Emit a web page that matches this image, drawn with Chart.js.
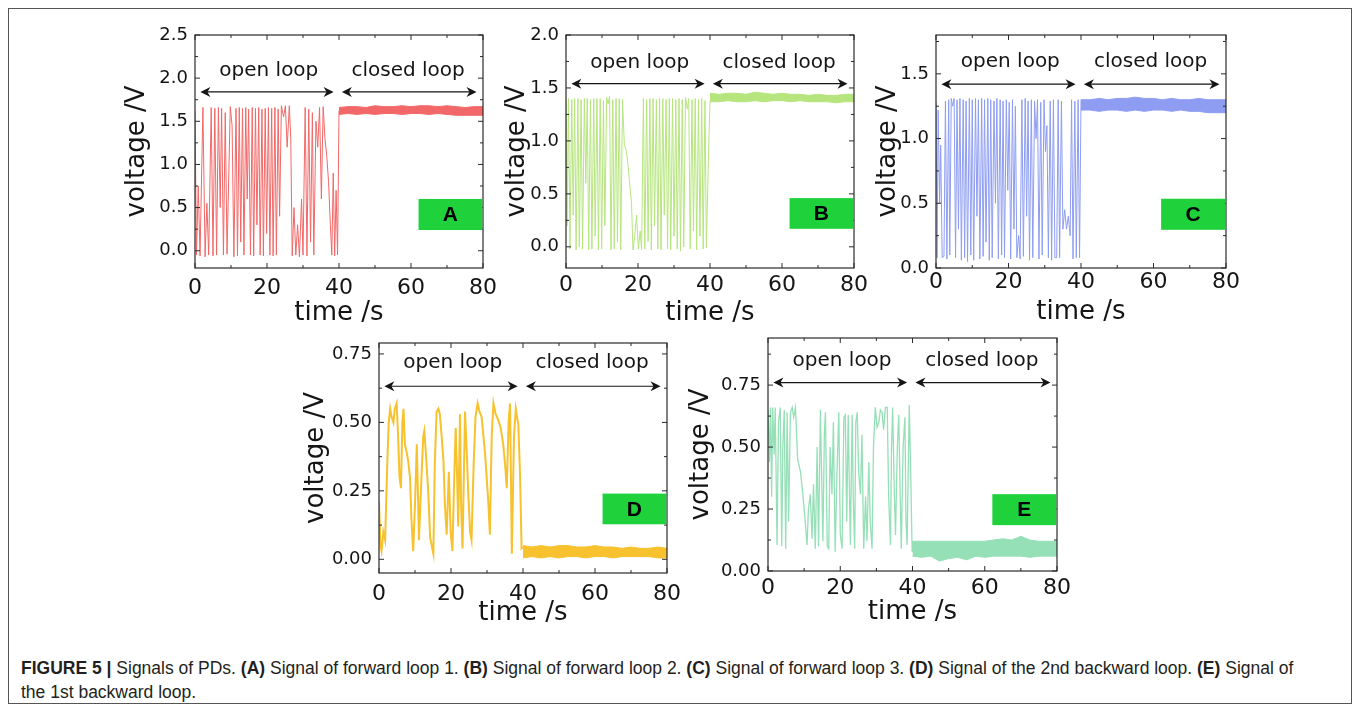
<!DOCTYPE html>
<html>
<head>
<meta charset="utf-8">
<script src="https://cdn.jsdelivr.net/npm/chart.js@4.4.1/dist/chart.umd.min.js"></script>
<style>
  body { margin: 0; background: #fff; width: 1359px; height: 711px; overflow: hidden; position: relative; }
  #frame { position: absolute; left: 8px; top: 8px; width: 1342px; height: 694px; border: 1px solid #555; }
  canvas { position: absolute; }
  #caption { position: absolute; left: 21px; top: 656px; font: 17.5px "Liberation Sans", Arial, sans-serif;
             line-height: 24px; color: #231f20; white-space: nowrap; }
</style>
</head>
<body>
<div id="frame"></div>
<canvas id="pA"></canvas>
<canvas id="pB"></canvas>
<canvas id="pC"></canvas>
<canvas id="pD"></canvas>
<canvas id="pE"></canvas>
<div id="caption"><b>FIGURE 5 |</b> Signals of PDs. <b>(A)</b> Signal of forward loop 1. <b>(B)</b> Signal of forward loop 2. <b>(C)</b> Signal of forward loop 3. <b>(D)</b> Signal of the 2nd backward loop. <b>(E)</b> Signal of<br>the 1st backward loop.</div>
<script>
// ---- data (time in s, voltage in V) ----
const xTicks = [0, 20, 40, 60, 80];
const xMinor = [10, 30, 50, 70];

// closed loop part: band edges sampled every 2.5 s
const tClosed = [40, 42.5, 45, 47.5, 50, 52.5, 55, 57.5, 60, 62.5, 65, 67.5, 70, 72.5, 75, 77.5, 80];

// A - forward loop 1
const tOpenA = [0, 0.4, 0.9, 1.4, 2.2, 2.8, 3.3, 3.8, 4.5, 5.0, 5.5, 6.0, 6.5, 7.0, 7.4, 7.9, 8.4, 8.9, 9.8, 10.3,
  10.8, 11.4, 11.8, 12.3, 12.7, 13.2, 13.6, 14.1, 14.5, 14.9, 15.4, 15.9, 16.3, 16.8, 17.2, 17.7, 18.1, 18.6, 19.0, 19.5,
  19.9, 20.4, 20.8, 21.3, 21.7, 22.2, 22.6, 23.1, 23.5, 24.0, 24.6, 25.1, 25.6, 26.2, 26.6, 27.0, 27.5, 28.0, 28.5, 29.0,
  29.6, 30.0, 30.6, 31.1, 31.6, 32.1, 32.6, 33.0, 33.6, 34.1, 34.6, 35.1, 35.6, 36.1, 36.6, 37.1, 37.6, 38.0, 38.4, 38.8,
  39.2, 39.6, 40.0];
const vOpenA = [1.62, -0.05, 0.75, -0.06, 1.66, -0.07, 0.55, -0.05, 1.66, -0.06, 1.65, -0.05, 1.66, 0.5, 1.65, -0.05, 1.6, -0.04, 1.67, 1.45,
  -0.07, 1.65, -0.06, 1.66, 0.1, 1.65, -0.05, 1.66, 0.6, 1.64, -0.05, 1.66, -0.06, 1.65, 0.3, 1.66, -0.05, 1.64, -0.06, 1.65,
  0.2, 1.66, -0.05, 1.65, -0.06, 1.66, -0.05, 1.64, 0.4, 1.68, 1.55, 1.68, 1.2, 1.68, 1.3, -0.06, 0.5, -0.05, 0.3, -0.07,
  0.6, -0.05, 1.66, -0.06, 1.64, 0.1, 1.6, -0.05, 1.5, 1.2, 1.66, 0.6, 1.67, 1.3, 1.1, 0.8, 0.3, -0.05, 0.9, -0.06,
  0.7, -0.05, 1.62];
const topA = [1.66, 1.67, 1.67, 1.66, 1.68, 1.67, 1.67, 1.68, 1.67, 1.68, 1.68, 1.67, 1.68, 1.67, 1.66, 1.67, 1.67];
const lowA = [1.58, 1.59, 1.58, 1.59, 1.58, 1.59, 1.59, 1.58, 1.59, 1.59, 1.58, 1.59, 1.58, 1.57, 1.57, 1.57, 1.57];

// B - forward loop 2
const tOpenB = [0, 0.3, 0.7, 1.1, 1.6, 2.0, 2.4, 2.8, 3.3, 3.7, 4.2, 4.6, 5.1, 5.5, 5.9, 6.3, 6.8, 7.2, 7.7, 8.1,
  8.6, 9.0, 9.5, 9.9, 10.4, 10.8, 11.3, 11.7, 12.1, 12.5, 13.0, 13.4, 13.9, 14.3, 14.8, 15.2, 15.7, 16.2, 16.8, 17.3,
  17.8, 18.2, 18.6, 19.1, 19.6, 20.1, 20.6, 21.0, 21.5, 21.9, 22.4, 22.8, 23.3, 23.7, 24.2, 24.6, 25.1, 25.5, 26.0, 26.4,
  26.9, 27.3, 27.8, 28.2, 28.7, 29.1, 29.6, 30.0, 30.5, 30.9, 31.4, 31.8, 32.3, 32.7, 33.2, 33.7, 34.1, 34.5, 35.0, 35.4,
  35.9, 36.3, 36.8, 37.2, 37.7, 38.1, 38.6, 39.0, 39.5, 40.0];
const vOpenB = [1.38, 0.2, 1.40, -0.02, 1.39, 0.3, 1.40, -0.03, 1.40, 0.0, 1.39, -0.02, 1.40, 0.6, 1.40, -0.03, 1.39, -0.02, 1.40, 0.1,
  1.40, -0.03, 1.40, -0.02, 1.38, 0.2, 1.41, 1.35, 1.42, -0.03, 1.39, -0.02, 1.40, 0.05, 1.40, -0.03, 1.39, 0.97, 0.9, 0.75,
  0.55, 0.42, -0.03, 0.1, 0.3, -0.02, 0.15, -0.03, 1.40, -0.02, 1.39, 0.05, 1.40, -0.03, 1.40, 0.2, 1.39, -0.02, 1.40, -0.03,
  1.40, 0.3, 1.39, -0.02, 1.40, -0.03, 1.40, 0.1, 1.39, -0.02, 1.40, -0.04, 1.39, 0.0, 1.41, 1.3, 1.40, -0.02, 1.39, 0.15,
  1.40, -0.03, 1.39, 0.1, 1.40, -0.02, 1.38, -0.01, 0.74, 1.38];
const topB = [1.45, 1.44, 1.45, 1.45, 1.44, 1.46, 1.45, 1.44, 1.45, 1.44, 1.44, 1.43, 1.44, 1.43, 1.43, 1.44, 1.44];
const lowB = [1.37, 1.37, 1.38, 1.37, 1.37, 1.38, 1.37, 1.38, 1.38, 1.37, 1.38, 1.37, 1.37, 1.37, 1.36, 1.37, 1.37];

// C - forward loop 3
const tOpenC = [0, 0.3, 0.6, 1.0, 1.3, 1.7, 2.2, 2.6, 3.0, 3.5, 3.8, 4.2, 4.6, 5.0, 5.4, 5.8, 6.2, 6.6, 7.0, 7.5,
  7.9, 8.3, 8.7, 9.2, 9.6, 10.0, 10.4, 10.9, 11.3, 11.7, 12.1, 12.6, 13.0, 13.4, 13.8, 14.3, 14.7, 15.1, 15.5, 16.0,
  16.4, 16.8, 17.2, 17.7, 18.1, 18.5, 18.9, 19.4, 19.8, 20.2, 20.6, 21.1, 21.5, 21.9, 22.3, 22.8, 23.2, 23.7, 24.1, 24.6,
  25.0, 25.4, 25.8, 26.3, 26.7, 27.2, 27.6, 28.0, 28.4, 28.9, 29.3, 29.8, 30.2, 30.6, 31.0, 31.5, 31.9, 32.4, 32.8, 33.3,
  33.7, 34.1, 34.6, 35.0, 35.5, 36.0, 36.5, 37.0, 37.4, 37.8, 38.3, 38.7, 39.2, 39.6, 40.0];
const vOpenC = [1.28, 0.08, 1.22, 0.5, 0.95, 0.08, 0.09, 1.29, 0.07, 1.30, 0.1, 1.31, 1.25, 1.31, 0.08, 1.30, 0.3, 1.31, 0.06, 1.30,
  0.08, 1.29, 0.05, 1.31, 0.1, 1.30, 0.06, 1.31, 0.4, 1.30, 0.07, 1.31, 0.09, 1.30, 0.2, 1.31, 0.06, 1.30, 0.08, 1.29,
  0.5, 1.31, 0.07, 1.30, 0.1, 1.29, 0.08, 1.30, 0.6, 1.28, 0.07, 1.30, 0.3, 1.25, 0.08, 0.25, 0.07, 1.30, 0.09, 1.31,
  0.4, 1.29, 0.06, 1.30, 0.08, 1.29, 1.0, 1.30, 0.07, 1.28, 0.1, 1.30, 0.9, 1.1, 0.08, 1.29, 0.06, 1.30, 0.08, 0.08,
  1.30, 0.08, 1.29, 0.3, 0.45, 0.3, 0.4, 0.25, 1.30, 0.07, 1.29, 0.08, 1.30, 0.08, 1.30];
const topC = [1.30, 1.30, 1.31, 1.30, 1.31, 1.31, 1.32, 1.31, 1.31, 1.30, 1.31, 1.30, 1.30, 1.31, 1.30, 1.30, 1.30];
const lowC = [1.22, 1.22, 1.21, 1.22, 1.22, 1.21, 1.22, 1.21, 1.22, 1.22, 1.21, 1.22, 1.21, 1.21, 1.20, 1.20, 1.20];

// D - 2nd backward loop
const tOpenD = [0, 0.4, 0.7, 1.2, 1.7, 2.3, 2.7, 3.1, 3.5, 4.0, 4.4, 4.9, 5.3, 5.7, 6.1, 6.5, 6.8, 7.2, 7.7, 8.1,
  8.6, 9.0, 9.5, 10.0, 10.5, 10.8, 11.1, 11.8, 12.3, 12.6, 13.2, 13.7, 14.2, 15.1, 15.5, 16.0, 16.5, 16.9, 17.4, 17.9,
  18.3, 18.8, 19.4, 19.9, 20.4, 20.8, 21.3, 21.7, 22.0, 22.5, 22.8, 23.2, 23.9, 24.4, 24.8, 25.3, 25.7, 26.3, 26.8, 27.4,
  27.9, 28.5, 29.0, 29.5, 29.9, 30.4, 30.8, 31.3, 31.8, 32.4, 33.1, 33.8, 34.5, 35.0, 35.5, 36.0, 36.4, 36.9, 37.5, 38.0,
  38.7, 39.2, 39.6, 40.0];
const vOpenD = [0.21, 0.05, 0.03, 0.10, 0.07, 0.35, 0.50, 0.55, 0.52, 0.50, 0.55, 0.57, 0.45, 0.30, 0.26, 0.50, 0.55, 0.42, 0.39, 0.36,
  0.30, 0.15, 0.03, 0.20, 0.42, 0.25, 0.07, 0.30, 0.45, 0.47, 0.35, 0.24, 0.08, 0.02, 0.35, 0.54, 0.55, 0.53, 0.45, 0.36,
  0.20, 0.09, 0.32, 0.10, 0.03, 0.25, 0.48, 0.30, 0.12, 0.53, 0.20, 0.04, 0.54, 0.38, 0.24, 0.10, 0.07, 0.35, 0.52, 0.57,
  0.54, 0.52, 0.45, 0.38, 0.30, 0.20, 0.09, 0.45, 0.57, 0.53, 0.51, 0.48, 0.42, 0.35, 0.26, 0.50, 0.57, 0.02, 0.45, 0.55,
  0.49, 0.30, 0.04, 0.045];
const topD = [0.05, 0.045, 0.05, 0.045, 0.05, 0.05, 0.045, 0.045, 0.05, 0.045, 0.045, 0.04, 0.045, 0.04, 0.04, 0.045, 0.04];
const lowD = [0.005, 0.01, 0.005, 0.01, 0.005, 0.01, 0.01, 0.005, 0.01, 0.01, 0.005, 0.01, 0.01, 0.01, 0.01, 0.005, 0.005];

// E - 1st backward loop
const tOpenE = [0, 0.4, 0.7, 1.0, 1.3, 1.7, 2.0, 2.5, 2.9, 3.4, 3.8, 4.1, 4.5, 4.9, 5.3, 5.7, 6.2, 6.7, 7.1, 7.6,
  8.2, 9.0, 9.5, 9.9, 10.3, 10.8, 11.2, 11.7, 12.2, 12.6, 13.1, 13.6, 14.0, 14.5, 15.2, 15.6, 15.9, 16.4, 16.8, 17.2,
  17.7, 18.1, 18.6, 19.1, 19.6, 20.0, 20.5, 21.0, 21.4, 21.8, 22.2, 22.8, 23.3, 23.6, 24.0, 24.3, 24.7, 25.1, 25.6, 26.0,
  26.5, 27.0, 27.4, 27.9, 28.3, 28.8, 29.2, 29.7, 30.2, 30.7, 31.1, 31.6, 32.0, 32.5, 33.0, 33.4, 33.9, 34.2, 34.5, 35.0,
  35.3, 35.8, 36.2, 36.6, 36.9, 37.4, 37.9, 38.2, 38.5, 39.1, 39.5, 39.9, 40.0];
const vOpenE = [0.65, 0.44, 0.66, 0.30, 0.66, 0.47, 0.66, 0.105, 0.60, 0.66, 0.10, 0.50, 0.65, 0.09, 0.64, 0.20, 0.64, 0.66, 0.62, 0.66,
  0.45, 0.40, 0.33, 0.27, 0.20, 0.105, 0.25, 0.31, 0.13, 0.35, 0.09, 0.50, 0.10, 0.65, 0.12, 0.55, 0.64, 0.10, 0.09, 0.50,
  0.31, 0.60, 0.078, 0.40, 0.64, 0.15, 0.09, 0.62, 0.63, 0.20, 0.63, 0.105, 0.63, 0.30, 0.09, 0.60, 0.64, 0.40, 0.31, 0.55,
  0.09, 0.30, 0.12, 0.44, 0.20, 0.09, 0.50, 0.66, 0.58, 0.60, 0.65, 0.64, 0.57, 0.66, 0.66, 0.30, 0.105, 0.50, 0.66, 0.30,
  0.145, 0.50, 0.63, 0.30, 0.09, 0.50, 0.62, 0.20, 0.105, 0.67, 0.40, 0.078, 0.12];
const topE = [0.12, 0.12, 0.12, 0.12, 0.12, 0.12, 0.12, 0.12, 0.12, 0.125, 0.13, 0.125, 0.14, 0.125, 0.12, 0.12, 0.12];
const lowE = [0.06, 0.055, 0.06, 0.04, 0.05, 0.055, 0.045, 0.06, 0.055, 0.06, 0.06, 0.06, 0.06, 0.055, 0.06, 0.06, 0.06];

const yTicksABC = [0, 0.5, 1, 1.5, 2, 2.5];
const yTicksDE = [0, 0.25, 0.5, 0.75];
// ---------------------------------------------------------------

const FONT = '"DejaVu Sans", sans-serif';
const INK = '#151515';

// draws the box, inward ticks, the loop arrows and the letter tag
const panelDecor = {
  id: 'panelDecor',
  afterDatasetsDraw(chart, args, o) {
    const { ctx, chartArea: a, scales: { x, y } } = chart;
    ctx.save();
    ctx.strokeStyle = '#2a2a2a';
    ctx.lineWidth = 1.2;
    ctx.strokeRect(a.left, a.top, a.width, a.height);

    ctx.lineWidth = 1;
    const tick = (x1, y1, x2, y2) => { ctx.beginPath(); ctx.moveTo(x1, y1); ctx.lineTo(x2, y2); ctx.stroke(); };
    xTicks.concat(xMinor).forEach(v => {
      const len = xTicks.includes(v) ? 5 : 3;
      const px = x.getPixelForValue(v);
      tick(px, a.bottom, px, a.bottom - len);
      tick(px, a.top, px, a.top + len);
    });
    o.yMajor.concat(o.yMinor).forEach(v => {
      if (v < y.min || v > y.max) return;
      const len = o.yMajor.includes(v) ? 5 : 3;
      const py = y.getPixelForValue(v);
      tick(a.left, py, a.left + len, py);
      tick(a.right, py, a.right - len, py);
    });

    // double headed arrows
    const arrow = (t1, t2, v) => {
      const x1 = x.getPixelForValue(t1), x2 = x.getPixelForValue(t2), py = y.getPixelForValue(v);
      ctx.strokeStyle = INK; ctx.fillStyle = INK; ctx.lineWidth = 1.2;
      tick(x1 + 4, py, x2 - 4, py);
      [[x1, 1], [x2, -1]].forEach(([px, d]) => {
        ctx.beginPath();
        ctx.moveTo(px, py);
        ctx.lineTo(px + d * 10, py - 5);
        ctx.lineTo(px + d * 7, py);
        ctx.lineTo(px + d * 10, py + 5);
        ctx.closePath();
        ctx.fill();
      });
    };
    arrow(1.5, 38.5, o.arrowY);
    arrow(40.8, 78.2, o.arrowY);

    ctx.fillStyle = INK;
    ctx.font = '20px ' + FONT;
    ctx.textAlign = 'center';
    ctx.textBaseline = 'middle';
    ctx.fillText('open loop', x.getPixelForValue(20.5), y.getPixelForValue(o.textY));
    ctx.fillText('closed loop', x.getPixelForValue(59.2), y.getPixelForValue(o.textY));

    // green letter tag
    const bx1 = x.getPixelForValue(62.1), bx2 = x.getPixelForValue(79.8);
    const by1 = y.getPixelForValue(o.tag[1]), by2 = y.getPixelForValue(o.tag[0]);
    ctx.fillStyle = '#1fd23c';
    ctx.fillRect(bx1, by1, bx2 - bx1, by2 - by1);
    ctx.fillStyle = '#000';
    ctx.font = 'bold 21px "Liberation Sans", Arial, sans-serif';
    ctx.fillText(o.letter, (bx1 + bx2) / 2, (by1 + by2) / 2 + 1);
    ctx.restore();
  }
};

function pts(ts, vs) { return ts.map((t, i) => ({ x: t, y: vs[i] })); }

function makePanel(p) {
  const [l, t, r, b] = p.box;
  const cv = document.getElementById(p.id);
  cv.width = r - l + 135;
  cv.height = b - t + 95;
  cv.style.left = (l - 110) + 'px';
  cv.style.top = (t - 25) + 'px';

  new Chart(cv, {
    type: 'line',
    data: {
      datasets: [
        { data: pts(p.tOpen, p.vOpen), borderColor: p.color, borderWidth: p.lw, fill: false },
        { data: pts(tClosed, p.top), borderColor: p.color, borderWidth: 1, fill: false },
        { data: pts(tClosed, p.low), borderColor: p.color, borderWidth: 1, backgroundColor: p.color, fill: '-1' }
      ]
    },
    options: {
      responsive: false,
      animation: false,
      devicePixelRatio: 1,
      layout: { padding: { left: 0, top: 25, right: 25, bottom: 0 } },
      elements: { point: { radius: 0 }, line: { tension: 0 } },
      plugins: {
        legend: { display: false },
        tooltip: { enabled: false },
        panelDecor: { yMajor: p.yTicks, yMinor: p.yMinor, arrowY: p.arrowY, textY: p.textY, tag: p.tag, letter: p.letter }
      },
      scales: {
        x: {
          type: 'linear', min: 0, max: 80,
          grid: { display: false, drawTicks: false }, border: { display: false },
          afterBuildTicks: s => { s.ticks = xTicks.map(v => ({ value: v })); },
          afterFit: s => { s.height = 70; },
          ticks: { autoSkip: false, maxRotation: 0, padding: p.xPad, color: INK, font: { family: FONT, size: 22 } },
          title: { display: true, text: 'time /s', color: INK, font: { family: FONT, size: 26 }, padding: { top: 0, bottom: p.xTitlePad } }
        },
        y: {
          type: 'linear', min: p.yMin, max: p.yMax,
          grid: { display: false, drawTicks: false }, border: { display: false },
          afterBuildTicks: s => { s.ticks = p.yTicks.filter(v => v <= p.yMax).map(v => ({ value: v })); },
          afterFit: s => { s.width = 110; },
          ticks: { padding: 7, color: INK, font: { family: FONT, size: 18 }, callback: v => v.toFixed(p.dec) },
          title: { display: true, text: 'voltage /V', color: INK, font: { family: FONT, size: 26 }, padding: { top: p.yTitlePad, bottom: 0 } }
        }
      }
    },
    plugins: [panelDecor]
  });
}

makePanel({ id: 'pA', box: [195, 35, 483, 268], color: '#f26868', lw: 1,
  tOpen: tOpenA, vOpen: vOpenA, top: topA, low: lowA,
  yMin: -0.2, yMax: 2.5, yTicks: yTicksABC, yMinor: [0.25, 0.75, 1.25, 1.75, 2.25], dec: 1,
  xPad: 7, xTitlePad: 9.4, yTitlePad: 36.4, arrowY: 1.84, textY: 2.085, tag: [0.24, 0.60], letter: 'A' });

makePanel({ id: 'pB', box: [566, 35, 854, 268], color: '#b6e57e', lw: 1,
  tOpen: tOpenB, vOpen: vOpenB, top: topB, low: lowB,
  yMin: -0.2, yMax: 2.0, yTicks: yTicksABC, yMinor: [0.25, 0.75, 1.25, 1.75], dec: 1,
  xPad: 4, xTitlePad: 9.4, yTitlePad: 45.4, arrowY: 1.54, textY: 1.74, tag: [0.17, 0.46], letter: 'B' });

makePanel({ id: 'pC', box: [936, 35, 1226, 268], color: '#8e9df1', lw: 1,
  tOpen: tOpenC, vOpen: vOpenC, top: topC, low: lowC,
  yMin: 0, yMax: 1.8, yTicks: yTicksABC, yMinor: [0.25, 0.75, 1.25, 1.75], dec: 1,
  xPad: 1, xTitlePad: 10.4, yTitlePad: 46.4, arrowY: 1.42, textY: 1.59, tag: [0.295, 0.535], letter: 'C' });

makePanel({ id: 'pD', box: [379, 343, 667, 573], color: '#f7c22e', lw: 2,
  tOpen: tOpenD, vOpen: vOpenD, top: topD, low: lowD,
  yMin: -0.05, yMax: 0.79, yTicks: yTicksDE, yMinor: [0.125, 0.375, 0.625], dec: 2,
  xPad: 8, xTitlePad: 14.4, yTitlePad: 31.4, arrowY: 0.632, textY: 0.716, tag: [0.128, 0.24], letter: 'D' });

makePanel({ id: 'pE', box: [768, 338, 1057, 571], color: '#95e0b7', lw: 1.3,
  tOpen: tOpenE, vOpen: vOpenE, top: topE, low: lowE,
  yMin: 0, yMax: 0.94, yTicks: yTicksDE, yMinor: [0.125, 0.375, 0.625, 0.875], dec: 2,
  xPad: 4, xTitlePad: 13.4, yTitlePad: 27.4, arrowY: 0.76, textY: 0.85, tag: [0.185, 0.31], letter: 'E' });
</script>
</body>
</html>
